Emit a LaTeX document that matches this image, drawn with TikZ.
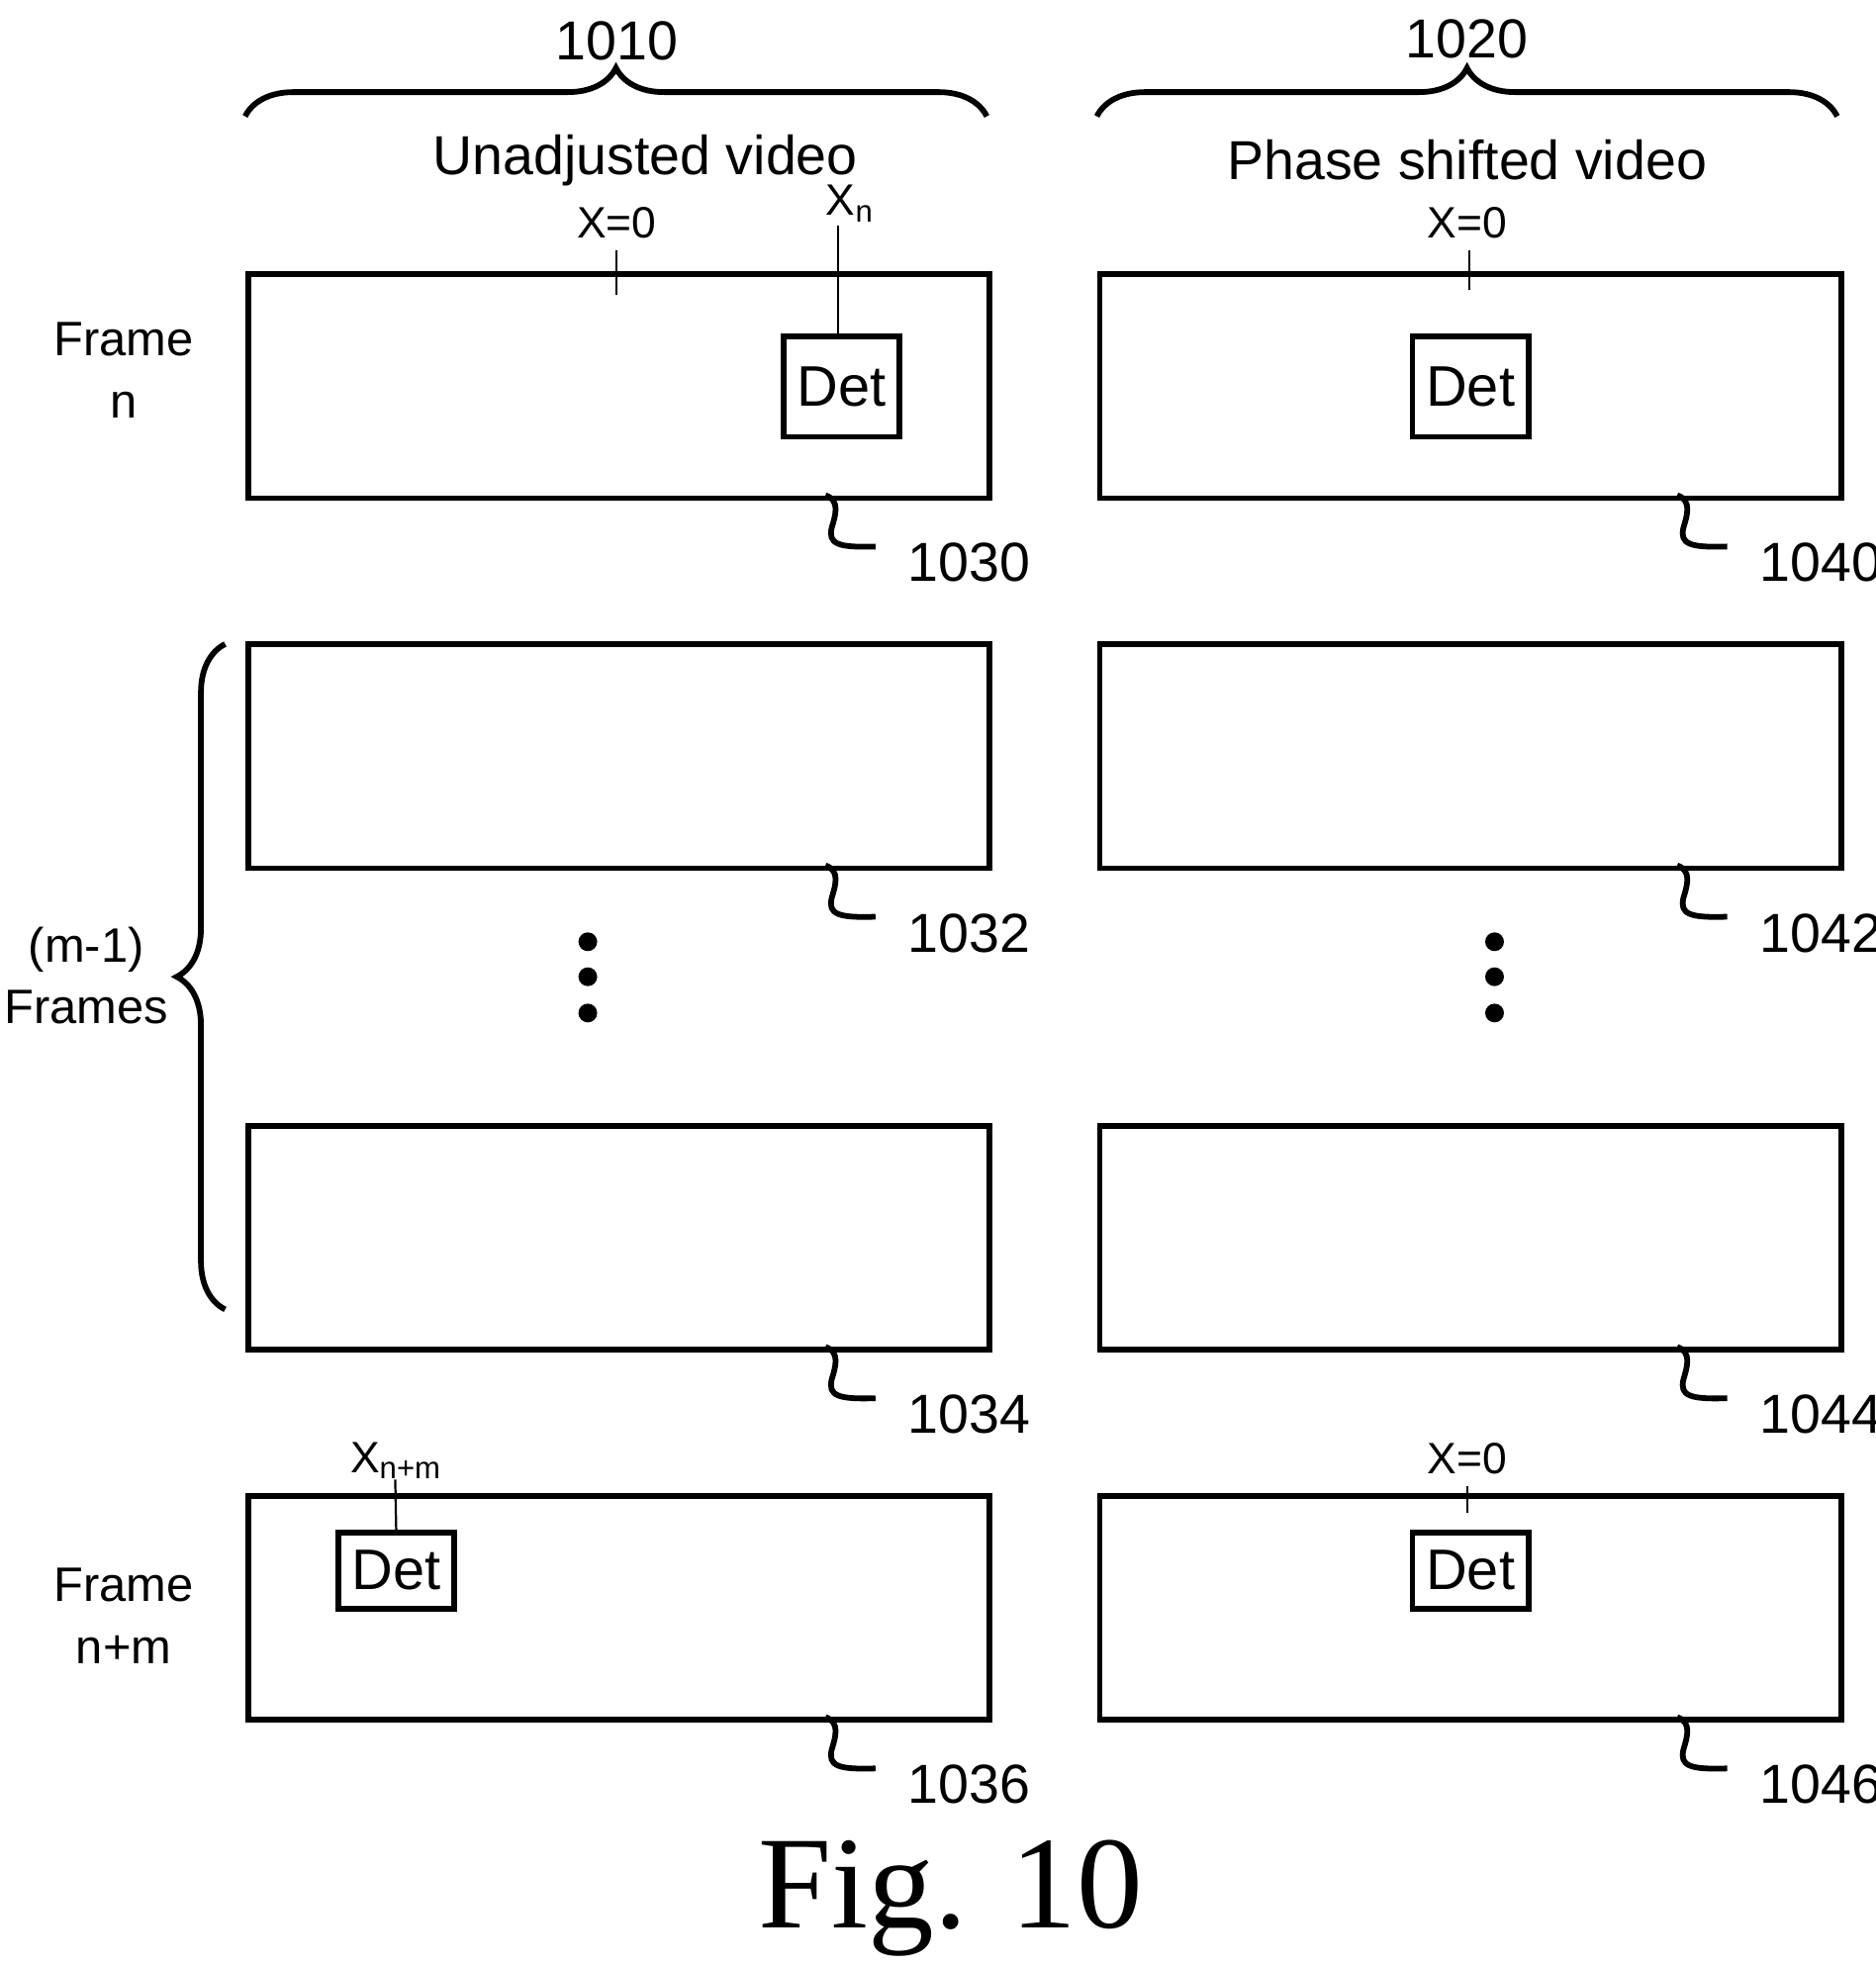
\documentclass[tikz,border=0pt]{standalone}
\usepackage{fontspec}
\setmainfont{Liberation Sans}
\usetikzlibrary{decorations.pathreplacing}
\begin{document}
\begin{tikzpicture}[x=0.1mm,y=-0.1mm,line width=1.3pt,
    frame/.style={draw,minimum width=59.3mm,minimum height=17.9mm,anchor=north west},
    det/.style={draw,font=\fontsize{13}{15}\selectfont,minimum width=9.3mm,anchor=north west,inner sep=0pt},
    lbl/.style={font=\fontsize{12.5}{14}\selectfont},
    side/.style={font=\fontsize{11}{14}\selectfont,align=center},
    small/.style={font=\fontsize{10}{12}\selectfont},
    thin/.style={line width=0.5pt},
    lead/.style={line width=1.3pt}]
  \useasboundingbox (0,0) rectangle (1500,1572);
  % Rahmen
  \foreach \y/\a/\b in {217/1030/1040,513/1032/1042,898/1034/1044,1194/1036/1046}{
    \node[frame] (L\a) at (196,\y) {};
    \node[frame] (R\b) at (877,\y) {};
    \draw[lead] (660,\y+179) .. controls (672,\y+183) and (668,\y+195) .. (665,\y+205)
      .. controls (662,\y+218) and (670,\y+221) .. (700,\y+220);
    \draw[lead] (1341,\y+179) .. controls (1353,\y+183) and (1349,\y+195) .. (1346,\y+205)
      .. controls (1343,\y+218) and (1351,\y+221) .. (1381,\y+220);
    \node[lbl,anchor=west] at (712,\y+233) {\a};
    \node[lbl,anchor=west] at (1393,\y+233) {\b};
  }
  % Det
  \node[det,minimum height=8mm] (detA) at (624,267) {Det};
  \node[det,minimum height=8mm] (detB) at (1127,267) {Det};
  \node[det,minimum height=6.1mm] (detC) at (268,1223) {Det};
  \node[det,minimum height=6.1mm] (detD) at (1127,1223) {Det};
  % Beschriftungen
  \node[lbl] at (493,33) {1010};
  \node[lbl] at (1173,31) {1020};
  \draw[decorate,decoration={brace,amplitude=11pt}] (196,93) -- (789,93);
  \draw[decorate,decoration={brace,amplitude=11pt}] (877,93) -- (1469,93);
  \node[lbl] at (516,128) {Unadjusted video};
  \node[lbl] at (1173,128) {Phase shifted video};
  \node[small] (x0a) at (493,178) {X=0};
  \draw[thin] (493,200) -- (493,236);
  \node[small] (xn) at (680,163) {X\textsubscript{n}};
  \draw[thin] (670,180) -- (detA.north -| 670,0);
  \node[small] (x0b) at (1173,178) {X=0};
  \draw[thin] (1175,200) -- (1175,232);
  \node[small] (xnm) at (317,1168) {X\textsubscript{n+m}};
  \draw[thin] (316,1183) -- (detC.north);
  \node[small] (x0c) at (1173,1166) {X=0};
  \draw[thin] (1173,1188) -- (1173,1210);
  \node[side] at (99,296) {Frame\\n};
  \node[side] at (69,780) {(m-1)\\Frames};
  \node[side] at (99,1292) {Frame\\n+m};
  \draw[decorate,decoration={brace,amplitude=11pt}] (180,1047) -- (180,515);
  \foreach \x in {470,1195}
    \foreach \y in {753,781,810}
      \fill (\x,\y) circle (7.5);
  \node[font=\fontsize{30}{32}\selectfont\bfseries\itshape\setmainfont{Liberation Serif}] at (760,1518) {Fig. 10};
\end{tikzpicture}
\end{document}
